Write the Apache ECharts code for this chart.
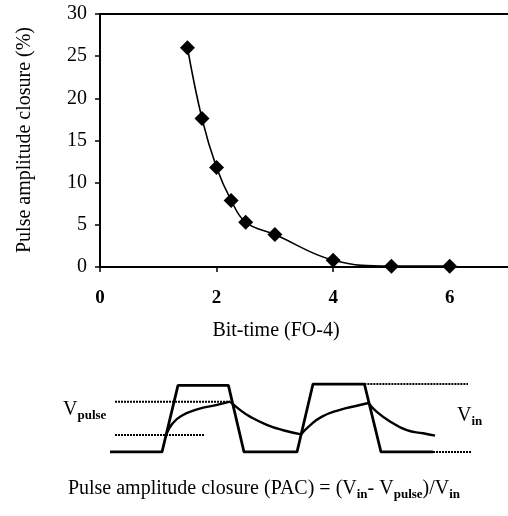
<!DOCTYPE html>
<html>
<head>
<meta charset="utf-8">
<script src="https://cdn.jsdelivr.net/npm/echarts@6/dist/echarts.min.js"></script>
<style>html,body{margin:0;padding:0;background:#fff;}#c{width:508px;height:516px;}</style>
</head>
<body>
<div id="c"></div>
<script>
// ---- Top chart data ----
const bitTime = [1.5, 1.75, 2, 2.25, 2.5, 3, 4, 5, 6];
const pacPercent = [26, 17.6, 11.8, 7.9, 5.3, 3.85, 0.8, 0.1, 0.1];
const xTicks = [0, 2, 4, 6];
const yTicks = [0, 5, 10, 15, 20, 25, 30];

// ---- Schematic waveform data (time units 0..100, voltage 0..1) ----
const vinT = [2.5, 15.5, 19.5, 32.1, 36, 49.25, 53.25, 66.1, 70.25, 83.25];
const vinV = [0, 0, 0.98, 0.98, 0, 0, 1, 1, 0, 0];
const charge1T = [16.6, 18.0, 20.3, 24.5, 29.0, 32.5];
const charge1V = [0.265, 0.41, 0.53, 0.63, 0.69, 0.74];
const decay1T = [32.5, 35, 37.5, 41.7, 45.8, 50.3];
const decay1V = [0.74, 0.62, 0.52, 0.40, 0.32, 0.26];
const charge2T = [50.3, 52.3, 55.5, 60, 64.2, 67.1];
const charge2V = [0.26, 0.38, 0.52, 0.62, 0.68, 0.72];
const decay2T = [67.1, 69.2, 72.5, 76.7, 80.8, 83.75];
const decay2V = [0.72, 0.59, 0.45, 0.32, 0.275, 0.24];
const pulseHighT = [3.75, 32.5], pulseHighV = [0.74, 0.74];
const pulseLowT = [3.75, 26.25], pulseLowV = [0.25, 0.25];
const vinHighT = [66.1, 92], vinHighV = [1, 1];
const vinLowT = [83.25, 92.75], vinLowV = [0, 0];

// ---- Text pieces (main / subscript) ----
const vpulseLabel = [['V', false], ['pulse', true]];
const vinLabel = [['V', false], ['in', true]];
const formulaLabel = [['Pulse amplitude closure (PAC) = (V', false], ['in', true], ['- V', false], ['pulse', true], [')/V', false], ['in', true]];

const FONT = "'Liberation Serif','Times New Roman',serif";
const MAIN_FONT = '20px ' + FONT;
const SUB_FONT = 'bold 13px ' + FONT;
const zip = (a, b) => a.map((v, i) => [v, b[i]]);

const measureCtx = document.createElement('canvas').getContext('2d');
function textWidth(t, font) { measureCtx.font = font; return measureCtx.measureText(t).width; }
function subText(pieces, x, y, center) {
  const widths = pieces.map(p => textWidth(p[0], p[1] ? SUB_FONT : MAIN_FONT));
  const total = widths.reduce((a, b) => a + b, 0);
  let cx = center ? x - total / 2 : x;
  return pieces.map((p, i) => {
    const el = {type: 'text', x: cx, y: y + (p[1] ? 6 : 0),
      style: {text: p[0], font: p[1] ? SUB_FONT : MAIN_FONT, fill: '#000', align: 'left', verticalAlign: 'middle'}};
    cx += widths[i];
    return el;
  });
}

const chart = echarts.init(document.getElementById('c'), null, {renderer: 'canvas'});

const solid = (name, t, v, width, smooth) => ({
  type: 'line', name, xAxisIndex: 2, yAxisIndex: 1, data: zip(t, v),
  showSymbol: false, symbol: 'none', smooth: smooth || false,
  lineStyle: {color: '#000', width: width}, silent: true
});
const dotted = (name, t, v) => ({
  type: 'line', name, xAxisIndex: 2, yAxisIndex: 1, data: zip(t, v),
  showSymbol: false, symbol: 'none',
  lineStyle: {color: '#000', width: 2, type: [2, 1]}, silent: true
});

chart.setOption({
  animation: false,
  backgroundColor: '#fff',
  grid: [
    {left: 100, top: 14, width: 410, height: 253, show: false},
    {left: 100, top: 384, width: 400, height: 68, show: false}
  ],
  xAxis: [
    {
      type: 'value', gridIndex: 0, min: 0, max: 7, interval: 2, position: 'bottom',
      axisLine: {show: true, onZero: false, lineStyle: {color: '#000', width: 2}},
      axisTick: {show: true, inside: false, length: 5, lineStyle: {color: '#000', width: 1.5}},
      axisLabel: {show: true, margin: 22, fontSize: 19, fontWeight: 'bold', fontFamily: FONT, color: '#000',
        showMaxLabel: false, formatter: v => (xTicks.indexOf(v) >= 0 ? String(v) : '')},
      splitLine: {show: false}
    },
    {
      type: 'value', gridIndex: 0, min: 0, max: 7, position: 'top',
      axisLine: {show: true, onZero: false, lineStyle: {color: '#000', width: 2}},
      axisTick: {show: false}, axisLabel: {show: false}, splitLine: {show: false}
    },
    {type: 'value', gridIndex: 1, min: 0, max: 100, show: false}
  ],
  yAxis: [
    {
      type: 'value', gridIndex: 0, min: 0, max: 30, interval: 5,
      axisLine: {show: true, lineStyle: {color: '#000', width: 2}},
      axisTick: {show: true, inside: false, length: 5, lineStyle: {color: '#000', width: 1.5}},
      axisLabel: {show: true, margin: 13, fontSize: 20, fontFamily: FONT, color: '#000',
        formatter: v => (yTicks.indexOf(v) >= 0 ? String(v) : '')},
      splitLine: {show: false}
    },
    {type: 'value', gridIndex: 1, min: 0, max: 1, show: false}
  ],
  series: [
    {
      type: 'line', name: 'PAC', xAxisIndex: 0, yAxisIndex: 0,
      data: zip(bitTime, pacPercent), smooth: 0.4,
      symbol: 'diamond', symbolSize: [15, 15],
      itemStyle: {color: '#000'}, lineStyle: {color: '#000', width: 1.6}
    },
    solid('Vin', vinT, vinV, 2.8, false),
    solid('charge1', charge1T, charge1V, 2.4, 0.5),
    solid('decay1', decay1T, decay1V, 2.4, 0.5),
    solid('charge2', charge2T, charge2V, 2.4, 0.5),
    solid('decay2', decay2T, decay2V, 2.4, 0.5),
    dotted('pulseHigh', pulseHighT, pulseHighV),
    dotted('pulseLow', pulseLowT, pulseLowV),
    dotted('vinHigh', vinHighT, vinHighV),
    dotted('vinLow', vinLowT, vinLowV)
  ],
  graphic: [
    {type: 'text', x: 25, y: 140, rotation: Math.PI / 2,
      style: {text: 'Pulse amplitude closure (%)', font: MAIN_FONT, fill: '#000', align: 'center', verticalAlign: 'middle'}},
    {type: 'text', x: 276, y: 331,
      style: {text: 'Bit-time (FO-4)', font: MAIN_FONT, fill: '#000', align: 'center', verticalAlign: 'middle'}}
  ].concat(subText(vpulseLabel, 63, 410, false))
   .concat(subText(vinLabel, 457, 416, false))
   .concat(subText(formulaLabel, 264, 489, true))
});
</script>
</body>
</html>
